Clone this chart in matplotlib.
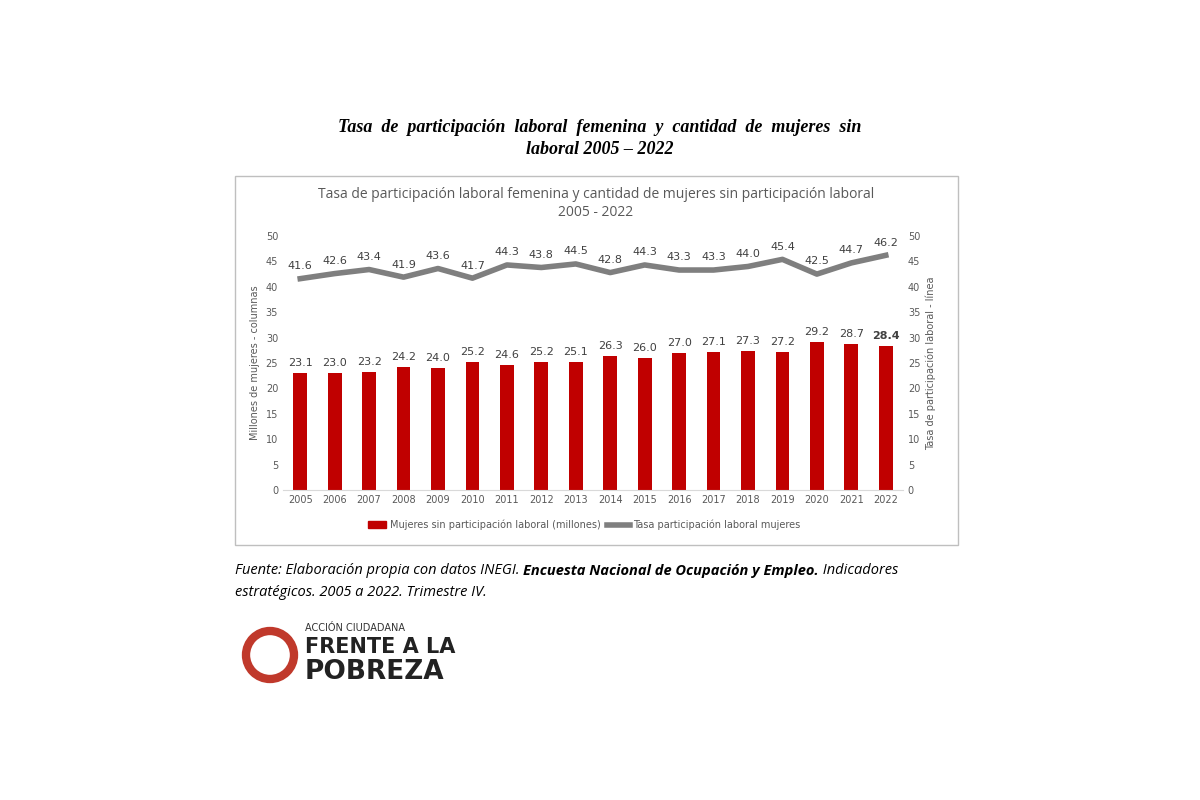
import matplotlib
matplotlib.use("Agg")
import matplotlib.pyplot as plt
from matplotlib.patches import Rectangle, Ellipse

years = [str(y) for y in range(2005, 2023)]
mujeres = [23.1, 23.0, 23.2, 24.2, 24.0, 25.2, 24.6, 25.2, 25.1, 26.3, 26.0, 27.0, 27.1, 27.3, 27.2, 29.2, 28.7, 28.4]
tasa = [41.6, 42.6, 43.4, 41.9, 43.6, 41.7, 44.3, 43.8, 44.5, 42.8, 44.3, 43.3, 43.3, 44.0, 45.4, 42.5, 44.7, 46.2]

fig = plt.figure(figsize=(12, 8), dpi=100)
fig.patch.set_facecolor("white")

fig.text(0.5, 1 - 128/800, "Tasa  de  participación  laboral  femenina  y  cantidad  de  mujeres  sin",
         ha="center", va="center", fontsize=13, fontstyle="italic", fontweight="bold", family="Liberation Serif")
fig.text(0.5, 1 - 150/800, "laboral 2005 – 2022", ha="center", va="center", fontsize=13,
         fontstyle="italic", fontweight="bold", family="Liberation Serif")

fig.add_artist(Rectangle((235/1200, 1 - 545/800), (958-235)/1200, (545-176)/800,
                         transform=fig.transFigure, fill=False, ec="#bfbfbf", lw=1))
fig.text(596/1200, 1 - 194/800, "Tasa de participación laboral femenina y cantidad de mujeres sin participación laboral",
         ha="center", va="center", fontsize=10, color="#595959", family="Open Sans")
fig.text(596/1200, 1 - 213/800, "2005 - 2022", ha="center", va="center", fontsize=10, color="#595959", family="Open Sans")

ax = fig.add_axes([283/1200, 1 - 490/800, 620/1200, 254/800])
x = range(len(years))
ax.bar(x, mujeres, width=0.4, color="#c00000", zorder=2)
for i, v in enumerate(mujeres):
    ax.text(i, v + 1.0, f"{v:.1f}", ha="center", va="bottom", fontsize=8, color="#404040",
            fontweight="bold" if i == len(years) - 1 else "normal")
ax.set_ylim(0, 50)
ax.set_yticks(range(0, 51, 5))
ax.set_xlim(-0.5, len(years) - 0.5)
ax.set_xticks(list(x))
ax.set_xticklabels(years)
for s in ax.spines.values():
    s.set_visible(False)
ax.spines["bottom"].set_visible(True)
ax.spines["bottom"].set_color("#d9d9d9")
ax.tick_params(length=0, labelsize=7, colors="#595959")
ax.set_ylabel("Millones de mujeres - columnas", fontsize=7, color="#595959")

ax2 = ax.twinx()
ax2.plot(x, tasa, color="#7f7f7f", lw=4, zorder=3)
for i, v in enumerate(tasa):
    ax2.text(i, v + 1.5, f"{v:.1f}", ha="center", va="bottom", fontsize=8, color="#404040")
ax2.set_ylim(0, 50)
ax2.set_yticks(range(0, 51, 5))
for s in ax2.spines.values():
    s.set_visible(False)
ax2.tick_params(length=0, labelsize=7, colors="#595959")
ax2.set_ylabel("Tasa de participación laboral - línea", fontsize=7, color="#595959")

fig.add_artist(Rectangle((368/1200, 1 - 528/800), 18/1200, 7/800, transform=fig.transFigure, color="#c00000"))
fig.text(390/1200, 1 - 525/800, "Mujeres sin participación laboral (millones)", fontsize=7, color="#595959", va="center")
fig.add_artist(plt.Line2D([607/1200, 630/1200], [1 - 525/800, 1 - 525/800], transform=fig.transFigure, color="#7f7f7f", lw=4))
fig.text(633/1200, 1 - 525/800, "Tasa participación laboral mujeres", fontsize=7, color="#595959", va="center")

# footnote, placed piece by piece
r = fig.canvas.get_renderer()
parts = [("Fuente: Elaboración propia con datos INEGI. ", "normal"),
         ("Encuesta Nacional de Ocupación y Empleo.", "bold"),
         (" Indicadores", "normal")]
xpos = 235
for txt, w in parts:
    t = fig.text(xpos/1200, 1 - 571/800, txt, fontsize=10.5, fontstyle="italic", fontweight=w,
                 family="Open Sans", va="center")
    xpos += t.get_window_extent(renderer=r).width
fig.text(235/1200, 1 - 593/800, "estratégicos. 2005 a 2022. Trimestre IV.", fontsize=10.5, fontstyle="italic",
         family="Open Sans", va="center")

fig.add_artist(Ellipse((270/1200, 1 - 655/800), 48/1200, 48/800, transform=fig.transFigure,
                       fill=False, ec="#c0392b", lw=6))
fig.text(305/1200, 1 - 628/800, "ACCIÓN CIUDADANA", fontsize=7, color="#333333", va="center")
fig.text(305/1200, 1 - 647/800, "FRENTE A LA", fontsize=15, fontweight="bold", color="#222222", va="center")
fig.text(305/1200, 1 - 672/800, "POBREZA", fontsize=19, fontweight="bold", color="#222222", va="center")

fig.savefig("out.png", dpi=100)
